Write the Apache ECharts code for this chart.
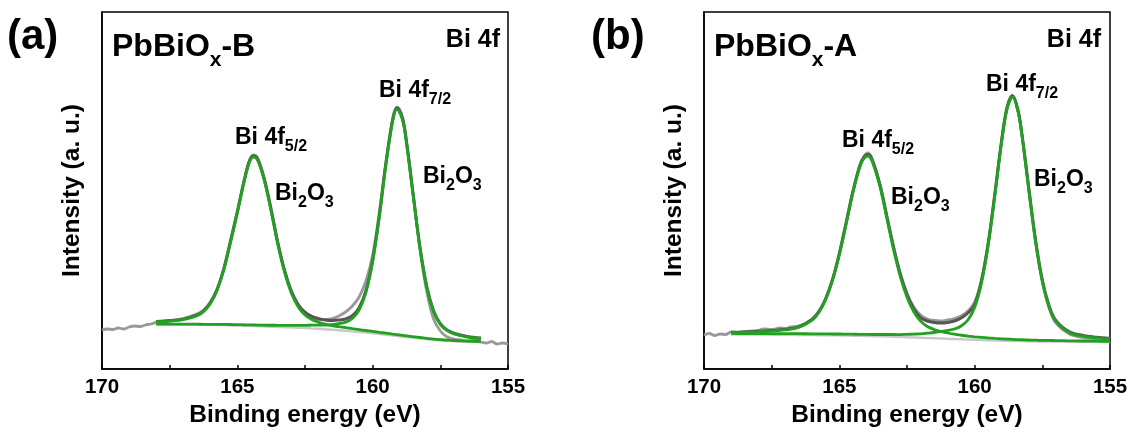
<!DOCTYPE html>
<html>
<head>
<meta charset="utf-8">
<script src="https://cdn.jsdelivr.net/npm/echarts@6/dist/echarts.min.js"></script>
<style>
html,body{margin:0;padding:0;background:#fff;}
#chart{width:1132px;height:434px;}
</style>
</head>
<body>
<div id="chart"></div>
<script>
// ---------- data (binding energy in eV, intensity in arbitrary units) ----------
// Panel (a) PbBiOx-B : fit grid
const X_A = [168, 167.5, 167, 166.5, 166.25, 166, 165.75, 165.5, 165.25, 165, 164.75, 164.55, 164.4, 164.25, 164, 163.75, 163.5, 163.25, 163, 162.75, 162.5, 162.25, 162, 161.75, 161.5, 161.25, 161, 160.75, 160.5, 160.25, 160, 159.75, 159.5, 159.25, 159.1, 158.9, 158.75, 158.5, 158.25, 158, 157.75, 157.5, 157.25, 157, 156.5, 156];
const BG_A = [44.5, 44.4, 44.3, 44.2, 44.1, 44, 43.9, 43.8, 43.6, 43.5, 43.3, 43.1, 42.9, 42.8, 42.5, 42.3, 42, 41.8, 41.5, 41.3, 41, 40.6, 40.2, 39.7, 39.2, 38.7, 38.2, 37.6, 37, 36.4, 35.8, 35, 34.3, 33.5, 33.1, 32.4, 32, 31.2, 30.5, 29.8, 29.1, 28.5, 28.1, 27.8, 27.3, 27];
const P1_A = [47.2, 48.0, 49.4, 53.1, 57.4, 65.3, 78.6, 99.1, 126.9, 156, 187, 207, 211.8, 208.8, 188.2, 157.5, 124, 96.1, 75.5, 62.1, 54.1, 49.4, 46.7, 44.8, 43.4, 42.3, 41.3, 40.3, 39.4, 38.5, 37.7, 36.7, 35.8, 34.9, 34.4, 33.6, 33.2, 32.3, 31.5, 30.7, 29.9, 29.3, 28.8, 28.5, 27.9, 27.5];
const P2_A = [44.9, 44.9, 44.8, 44.8, 44.7, 44.7, 44.6, 44.55, 44.5, 44.4, 44.25, 44.15, 44.1, 43.95, 43.8, 43.75, 43.7, 43.6, 43.6, 43.65, 43.7, 43.8, 43.9, 44, 44.4, 45.3, 46.9, 50.6, 59, 76.3, 107.2, 152.7, 206.1, 249.2, 259.6, 249.3, 225.8, 172.6, 120.6, 81.6, 57.5, 44.6, 38.3, 35.2, 32, 30.4];
const ENV_A = [47.6, 48.5, 49.9, 53.8, 58, 66, 79.3, 99.9, 127.8, 157, 188, 208.1, 213, 210, 189.5, 159, 125.7, 98, 77.6, 64.5, 56.8, 52.6, 50.4, 49.1, 48.6, 48.9, 50, 53.3, 61.4, 78.4, 109.1, 154.4, 207.6, 250.6, 260.9, 250.5, 227, 173.7, 121.6, 82.5, 58.3, 45.4, 39, 35.9, 32.6, 30.9];
// Panel (a) raw spectrum
const RAW_X_A = [170, 169.8, 169.6, 169.4, 169.2, 169, 168.8, 168.6, 168.4, 168.2, 168, 167.5, 167, 166.5, 166.25, 166, 165.75, 165.5, 165.25, 165, 164.75, 164.55, 164.4, 164.25, 164, 163.75, 163.5, 163.25, 163, 162.75, 162.5, 162.25, 162, 161.75, 161.5, 161.25, 161, 160.75, 160.5, 160.25, 160, 159.75, 159.5, 159.25, 159.1, 158.9, 158.75, 158.5, 158.25, 158, 157.75, 157.5, 157.25, 157, 156.75, 156.5, 156.25, 156, 155.8, 155.6, 155.4, 155.2, 155];
const RAW_A = [39, 40, 39.5, 41, 40, 42, 43, 42.5, 44, 45, 46.5, 48, 50.5, 55, 59, 67, 80, 101, 129, 158, 189, 209, 214, 211, 190, 160, 126, 98, 77, 63, 55, 51, 49, 49.5, 50.5, 53, 57, 63, 72, 88, 114, 158, 209, 252, 262, 252, 228, 174, 119, 77, 50, 38, 32, 30, 29, 28, 28.5, 27, 26, 27.5, 25, 26, 25];

// Panel (b) PbBiOx-A : fit grid
const X_B = [169, 168.5, 168, 167.5, 167, 166.5, 166, 165.75, 165.5, 165.25, 165, 164.75, 164.5, 164.25, 164.1, 163.95, 163.8, 163.5, 163.25, 163, 162.75, 162.5, 162.25, 162, 161.75, 161.5, 161.25, 161, 160.75, 160.5, 160.25, 160, 159.75, 159.5, 159.25, 159, 158.8, 158.6, 158.4, 158.25, 158, 157.75, 157.5, 157.25, 157, 156.5, 156, 155.5, 155];
const BG_B = [34.5, 34.4, 34.35, 34.3, 34.2, 34.05, 33.9, 33.8, 33.75, 33.7, 33.6, 33.45, 33.3, 33.15, 33.05, 33, 32.85, 32.65, 32.5, 32.3, 32.05, 31.8, 31.55, 31.3, 31, 30.75, 30.5, 30.2, 29.95, 29.7, 29.45, 29.2, 29, 28.75, 28.5, 28.3, 28.15, 28, 27.9, 27.85, 27.7, 27.6, 27.55, 27.5, 27.4, 27.3, 27.2, 27.1, 27];
const P1_B = [36.4, 36.7, 37.2, 37.9, 39.1, 41.6, 48.9, 56.8, 69.6, 88.7, 114.2, 144.7, 176, 201.5, 210.4, 213, 208.4, 182.4, 151.4, 119.9, 92.7, 71.7, 57.2, 47.9, 42.5, 39.5, 37.6, 36, 34.8, 33.8, 32.9, 32.2, 31.6, 31.05, 30.6, 30.2, 29.95, 29.6, 29.4, 29.25, 29, 28.8, 28.65, 28.6, 28.4, 28.2, 28, 27.8, 27.6];
const P2_B = [35.6, 35.5, 35.5, 35.4, 35.4, 35.3, 35.2, 35.1, 35.1, 35, 35, 34.9, 34.8, 34.7, 34.6, 34.6, 34.5, 34.5, 34.5, 34.5, 34.4, 34.6, 34.9, 35.2, 35.8, 36.5, 37.5, 38.6, 40, 43, 49, 61.5, 85.6, 123.5, 174, 227.5, 260.3, 272, 257.6, 232.9, 179.8, 127.9, 88, 62.1, 47.5, 36.2, 32.8, 31.1, 30];
const ENV_B = [36.8, 37.1, 37.7, 38.4, 39.7, 42.3, 49.7, 57.6, 70.5, 89.6, 115.2, 145.8, 177.2, 202.8, 211.7, 214.4, 209.9, 184.1, 153.3, 122, 95, 74.3, 60.2, 51.3, 48, 46.5, 46, 46.5, 48, 51, 56, 64.4, 88.2, 125.75, 176.1, 229.4, 262.15, 273.6, 259.1, 234.35, 181.1, 129.1, 89.05, 63.2, 48.5, 37.1, 33.6, 31.8, 30.6];
// Panel (b) raw spectrum
const RAW_X_B = [170, 169.8, 169.6, 169.4, 169.2, 169, 168.8, 168.5, 168.2, 168, 167.8, 167.5, 167.2, 167, 166.8, 166.5, 166.2, 166, 165.75, 165.5, 165.25, 165, 164.75, 164.5, 164.25, 164.1, 163.95, 163.8, 163.5, 163.25, 163, 162.75, 162.5, 162.25, 162, 161.75, 161.5, 161.25, 161, 160.75, 160.5, 160.25, 160, 159.75, 159.5, 159.25, 159, 158.8, 158.6, 158.4, 158.25, 158, 157.75, 157.5, 157.25, 157, 156.5, 156, 155.5, 155];
const RAW_B = [34, 35.5, 33.5, 35, 34.5, 37, 36.5, 37.5, 38, 38.5, 40, 39.5, 41, 40.5, 42, 43, 46, 50, 58, 71, 90, 116, 147, 178, 203, 212, 216, 211, 185, 154, 123, 96, 76, 62, 54, 50, 48.5, 48, 49, 50.5, 53, 58, 67, 89, 126, 176, 229, 261, 273, 258, 233, 178, 126, 87, 61, 46, 35, 31.5, 30, 29];

// axis settings
const X_MIN = 155, X_MAX = 170, X_STEP = 5;
const Y_MIN = 0, Y_MAX = 357;

// text
const PANEL_TAGS = ['(a)', '(b)'];
const SAMPLES = ['PbBiOx-B', 'PbBiOx-A'];
const X_TITLE = 'Binding energy (eV)';
const Y_TITLE = 'Intensity (a. u.)';

// ---------- chart ----------
const FONT = '"Liberation Sans", Arial, Helvetica, sans-serif';
const GREEN = '#22a022';
const pairs = (xs, ys) => xs.map((x, i) => [x, ys[i]]);

function xAxis(gi) {
  return {
    gridIndex: gi, type: 'value', min: X_MIN, max: X_MAX, interval: X_STEP, inverse: true,
    axisLine: { show: true, onZero: false, lineStyle: { color: '#000', width: 1.5 } },
    axisTick: { show: true, inside: true, length: 4, lineStyle: { color: '#000', width: 1.5 } },
    minorTick: { show: true, splitNumber: 2, length: 4, lineStyle: { color: '#000', width: 1.5 } },
    splitLine: { show: false },
    axisLabel: { color: '#000', fontSize: 20.5, fontWeight: 'bold', fontFamily: FONT, margin: 8 },
    name: X_TITLE, nameLocation: 'middle', nameGap: 32,
    nameTextStyle: { color: '#000', fontSize: 24.5, fontWeight: 'bold', fontFamily: FONT }
  };
}
function yAxis(gi) {
  return {
    gridIndex: gi, type: 'value', min: Y_MIN, max: Y_MAX,
    axisLine: { show: true, lineStyle: { color: '#000', width: 1.5 } },
    axisTick: { show: false }, axisLabel: { show: false }, splitLine: { show: false },
    name: Y_TITLE, nameLocation: 'middle', nameGap: 17, nameRotate: 90,
    nameTextStyle: { color: '#000', fontSize: 24.5, fontWeight: 'bold', fontFamily: FONT }
  };
}
function line(gi, data, color, width, z) {
  return {
    type: 'line', xAxisIndex: gi, yAxisIndex: gi, data: data, showSymbol: false, symbol: 'none',
    smooth: 0.35, lineStyle: { color: color, width: width }, z: z, silent: true, animation: false
  };
}
const series = [
  line(0, pairs(RAW_X_A, RAW_A), '#999999', 2.8, 2),
  line(0, pairs(X_A, BG_A), '#c8c8c8', 2.4, 3),
  line(0, pairs(X_A, ENV_A), '#555555', 3, 4),
  line(0, pairs(X_A, P1_A), GREEN, 2.8, 5),
  line(0, pairs(X_A, P2_A), GREEN, 2.8, 5),
  line(1, pairs(RAW_X_B, RAW_B), '#999999', 2.8, 2),
  line(1, pairs(X_B, BG_B), '#c8c8c8', 2.4, 3),
  line(1, pairs(X_B, ENV_B), '#555555', 3, 4),
  line(1, pairs(X_B, P1_B), GREEN, 2.8, 5),
  line(1, pairs(X_B, P2_B), GREEN, 2.8, 5)
];

const rich = {
  m: { fontSize: 23, fontWeight: 'bold', fontFamily: FONT, fill: '#000', lineHeight: 34, verticalAlign: 'middle' },
  s: { fontSize: 16, fontWeight: 'bold', fontFamily: FONT, fill: '#000', lineHeight: 16, verticalAlign: 'bottom' },
  M: { fontSize: 32, fontWeight: 'bold', fontFamily: FONT, fill: '#000', lineHeight: 48, verticalAlign: 'middle' },
  S: { fontSize: 21, fontWeight: 'bold', fontFamily: FONT, fill: '#000', lineHeight: 21, verticalAlign: 'bottom' }
};
function txt(x, y, text, align, extra) {
  return Object.assign({
    type: 'text', x: x, y: y, silent: true, z: 10,
    style: { text: text, rich: rich, align: align || 'left', verticalAlign: 'middle', fill: '#000' }
  }, extra || {});
}
function sampleText(name) {
  const m = name.match(/^(PbBiO)(x)(.*)$/);
  return '{M|' + m[1] + '}{S|' + m[2] + '}{M|' + m[3] + '}';
}
const peak52 = '{m|Bi 4f}{s|5/2}';
const peak72 = '{m|Bi 4f}{s|7/2}';
const oxide = '{m|Bi}{s|2}{m|O}{s|3}';

const graphic = [
  { type: 'text', x: 7, y: 37, silent: true, style: { text: PANEL_TAGS[0], font: 'bold 42px ' + FONT, fill: '#000', align: 'left', verticalAlign: 'middle' } },
  { type: 'text', x: 591, y: 37, silent: true, style: { text: PANEL_TAGS[1], font: 'bold 42px ' + FONT, fill: '#000', align: 'left', verticalAlign: 'middle' } },
  txt(112, 47, sampleText(SAMPLES[0])),
  txt(714, 47, sampleText(SAMPLES[1])),
  { type: 'text', x: 500, y: 40, silent: true, style: { text: 'Bi 4f', font: 'bold 25px ' + FONT, fill: '#000', align: 'right', verticalAlign: 'middle' } },
  { type: 'text', x: 1101, y: 40, silent: true, style: { text: 'Bi 4f', font: 'bold 25px ' + FONT, fill: '#000', align: 'right', verticalAlign: 'middle' } },
  txt(235, 138, peak52),
  txt(379, 91, peak72),
  txt(275, 194, oxide),
  txt(423, 177, oxide),
  txt(842, 141, peak52),
  txt(986, 85, peak72),
  txt(891, 198, oxide),
  txt(1034, 180, oxide)
];

const chart = echarts.init(document.getElementById('chart'), null, { renderer: 'canvas' });
chart.setOption({
  backgroundColor: '#ffffff',
  animation: false,
  grid: [
    { left: 102, top: 12, width: 406, height: 357, show: true, borderColor: '#000', borderWidth: 1.5, backgroundColor: 'transparent' },
    { left: 704, top: 12, width: 406, height: 357, show: true, borderColor: '#000', borderWidth: 1.5, backgroundColor: 'transparent' }
  ],
  xAxis: [xAxis(0), xAxis(1)],
  yAxis: [yAxis(0), yAxis(1)],
  series: series,
  graphic: graphic
});
</script>
</body>
</html>
